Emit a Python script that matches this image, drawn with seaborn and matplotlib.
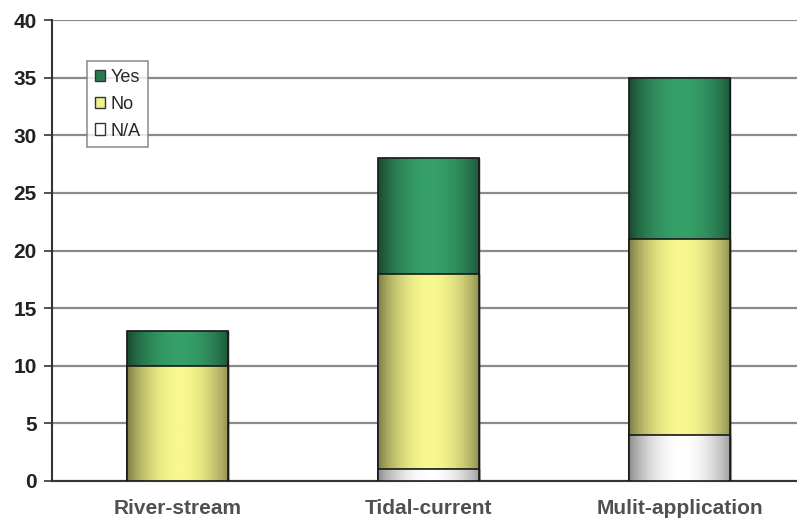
import numpy as np
import matplotlib
matplotlib.use("Agg")
import matplotlib.pyplot as plt
import seaborn as sns
from matplotlib.colors import LinearSegmentedColormap
from matplotlib.patches import Patch

categories = ["River-stream", "Tidal-current", "Mulit-application"]
na_vals = [0, 1, 4]
no_vals = [10, 17, 17]
yes_vals = [3, 10, 14]
yticks = [0, 5, 10, 15, 20, 25, 30, 35, 40]

sns.set_style("white")
plt.rcParams['font.family'] = ['Liberation Sans', 'DejaVu Sans']

fig = plt.figure(figsize=(7.97, 5.23), dpi=100)
ax = fig.add_axes([52/797, 42/523, 753/797, 461/523])

cum_na = np.array(na_vals)
cum_no = cum_na + np.array(no_vals)
cum_yes = cum_no + np.array(yes_vals)

layers = [
    (cum_yes, ("#123a25", "#36a068"), 2),
    (cum_no, ("#66663a", "#f8f88e"), 4),
    (cum_na, ("#777777", "#ffffff"), 6),
]

t = np.linspace(0, 1, 256)
prof = np.clip(np.sin(np.pi * np.clip(t * 0.92 + 0.02, 0, 1)) ** 0.7, 0, 1)
grad = prof[np.newaxis, :]

for vals, (dark, light), z in layers:
    n_before = len(ax.patches)
    sns.barplot(x=categories, y=vals, color=light, width=0.4, ax=ax,
                edgecolor="#1a1a1a", linewidth=1.0, zorder=z, saturation=1)
    cmap = LinearSegmentedColormap.from_list("g", [dark, light])
    for p in ax.patches[n_before:]:
        h = p.get_height()
        if h <= 0:
            continue
        x0, w, y0 = p.get_x(), p.get_width(), p.get_y()
        im = ax.imshow(grad, cmap=cmap, aspect="auto",
                       extent=[x0, x0 + w, y0, y0 + h], zorder=z + 0.5,
                       vmin=0, vmax=1, interpolation="bilinear")
        im.set_clip_path(p)
        ax.add_patch(plt.Rectangle((x0, y0), w, h, fill=False,
                                   edgecolor="#1a1a1a", linewidth=1.2,
                                   zorder=z + 0.6))

ax.set_xlim(-0.5, 2.5)
ax.set_ylim(0, 40)
ax.set_yticks(yticks)
ax.set_yticklabels([str(v) for v in yticks], fontsize=15, fontweight="bold",
                   color="#222222")
ax.set_xticks(range(len(categories)))
ax.set_xticklabels(categories, fontsize=15, fontweight="bold", color="#505050")
ax.set_xticks([0.5, 1.5], minor=True)
ax.tick_params(axis="x", which="major", length=0, pad=13)
ax.tick_params(axis="x", which="minor", length=5, width=1, color="#333333",
               direction="out")
ax.tick_params(axis="y", length=6, width=1.2, color="#333333", direction="out",
               pad=5, left=True)

ax.yaxis.grid(True, color="#8a8a8a", linewidth=1.6, zorder=0)
ax.set_axisbelow(True)
for s in ["top", "right"]:
    ax.spines[s].set_visible(False)
ax.spines["left"].set_color("#333333")
ax.spines["left"].set_linewidth(1.5)
ax.spines["bottom"].set_color("#333333")
ax.spines["bottom"].set_linewidth(1.5)
ax.set_xlabel("")
ax.set_ylabel("")

handles = [Patch(facecolor="#2a7a50", edgecolor="#333333", label="Yes"),
           Patch(facecolor="#f0f090", edgecolor="#333333", label="No"),
           Patch(facecolor="#ffffff", edgecolor="#333333", label="N/A")]
leg = ax.legend(handles=handles, loc="upper left",
                bbox_to_anchor=(0.047, 0.91), fontsize=13, frameon=True,
                fancybox=False, edgecolor="#777777", handlelength=0.6,
                handleheight=0.6, handletextpad=0.3, labelspacing=0.55,
                borderpad=0.4, borderaxespad=0)
leg.get_frame().set_linewidth(1.2)
leg.set_zorder(10)

fig.savefig("out.png", dpi=100, facecolor="white")
